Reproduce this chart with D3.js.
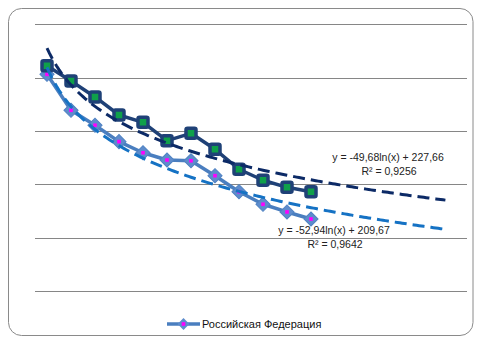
<!DOCTYPE html>
<html><head><meta charset="utf-8">
<script src="https://cdn.jsdelivr.net/npm/d3@7"></script>
<style>
html,body{margin:0;padding:0;background:#fff;}
svg{display:block;font-family:"Liberation Sans",Arial,sans-serif;}
</style></head>
<body>
<svg id="chart" width="478" height="339"></svg>
<script>
// Category slots (18 on the axis, 12 with data)
const categories = d3.range(1, 19);
const seriesDark = [211.2, 196.9, 181.9, 165.0, 158.1, 140.9, 147.8, 132.8, 114.1, 103.8, 97.2, 93.1];
const seriesRF = [203.1, 169.4, 155.4, 140.0, 129.6, 122.8, 122.1, 108.1, 93.1, 81.3, 74.1, 67.5];
const yTicks = [0, 50, 100, 150, 200, 250];
const legendLabels = ["Российская Федерация"];
const trendDark = {a: -49.68, b: 227.66, r2: "0,9256", label: "y = -49,68ln(x) + 227,66"};
const trendRF = {a: -52.94, b: 209.67, r2: "0,9642", label: "y = -52,94ln(x) + 209,67"};
const trendEnd = 17.6;

const svg = d3.select("#chart");
// chart border
svg.append("rect").attr("x", 8.5).attr("y", 8.5).attr("width", 464.5).attr("height", 327)
  .attr("rx", 13).attr("ry", 13).attr("fill", "#fff").attr("stroke", "#8a8a8a").attr("stroke-width", 1);

const x = d3.scaleLinear().domain([0.5, categories.length + 0.5]).range([35, 467]);
const y = d3.scaleLinear().domain([0, 250]).range([291, 24.3]);

// gridlines
svg.append("g").selectAll("line").data(yTicks).join("line")
  .attr("x1", 35).attr("x2", 467)
  .attr("y1", d => Math.round(y(d)) + 0.5).attr("y2", d => Math.round(y(d)) + 0.5)
  .attr("stroke", "#868686").attr("stroke-width", 1);

const line = d3.line().x((d, i) => x(categories[i])).y(d => y(d));

// RF series (light)
svg.append("path").attr("d", line(seriesRF)).attr("fill", "none")
  .attr("stroke", "#4a7ebf").attr("stroke-width", 3.5).attr("stroke-linejoin", "round");
const gRF = svg.append("g").selectAll("g").data(seriesRF).join("g")
  .attr("transform", (d, i) => `translate(${x(categories[i])},${y(d)})`);
gRF.append("path").attr("d", d3.symbol().type(d3.symbolSquare).size(100)())
  .attr("transform", "rotate(45)").attr("fill", "#5e8ccc").attr("stroke", "#4f82c2").attr("stroke-width", 1);
gRF.append("rect").attr("x", -1.8).attr("y", -1.8).attr("width", 3.6).attr("height", 3.6).attr("fill", "#ff00ff");

// dark series
svg.append("path").attr("d", line(seriesDark)).attr("fill", "none")
  .attr("stroke", "#1f4177").attr("stroke-width", 3.5).attr("stroke-linejoin", "round");
svg.append("g").selectAll("rect").data(seriesDark).join("rect")
  .attr("x", (d, i) => x(categories[i]) - 5).attr("y", d => y(d) - 5)
  .attr("width", 10).attr("height", 10).attr("rx", 1.5)
  .attr("fill", "#0fa04a").attr("stroke", "#1f4177").attr("stroke-width", 3.5);

// trendlines (drawn over the series)
function trendPts(t) {
  const pts = [];
  for (let v = 1; v <= trendEnd + 1e-9; v += 0.1) pts.push([v, t.a * Math.log(v) + t.b]);
  return pts;
}
const tline = d3.line().x(d => x(d[0])).y(d => y(d[1]));
svg.append("path").attr("d", tline(trendPts(trendDark))).attr("fill", "none")
  .attr("stroke", "#0c2a66").attr("stroke-width", 3).attr("stroke-dasharray", "12,6");
svg.append("path").attr("d", tline(trendPts(trendRF))).attr("fill", "none")
  .attr("stroke", "#1572c4").attr("stroke-width", 3).attr("stroke-dasharray", "12,6");

// trendline labels
const lab = svg.append("g").attr("font-size", 10.5).attr("fill", "#222").attr("text-anchor", "middle");
lab.append("text").attr("x", 388).attr("y", 161).text(trendDark.label);
lab.append("text").attr("x", 389).attr("y", 175).text("R² = " + trendDark.r2);
lab.append("text").attr("x", 334).attr("y", 234).text(trendRF.label);
lab.append("text").attr("x", 335).attr("y", 248).text("R² = " + trendRF.r2);

// legend
const lg = svg.append("g").attr("transform", "translate(167,324)");
lg.append("line").attr("x1", 0).attr("x2", 33).attr("y1", 0).attr("y2", 0)
  .attr("stroke", "#4a7ebf").attr("stroke-width", 3.5);
lg.append("path").attr("d", d3.symbol().type(d3.symbolSquare).size(70)())
  .attr("transform", "translate(16.5,0) rotate(45)").attr("fill", "#5e8ccc");
lg.append("rect").attr("x", 14.7).attr("y", -1.8).attr("width", 3.6).attr("height", 3.6).attr("fill", "#ff00ff");
lg.append("text").attr("x", 35).attr("y", 4).attr("font-size", 11).attr("fill", "#111").text(legendLabels[0]);
</script>
</body></html>
